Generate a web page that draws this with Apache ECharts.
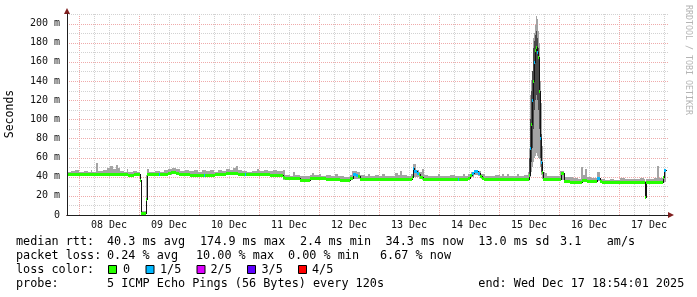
<!DOCTYPE html>
<html><head><meta charset="utf-8">
<script src="https://cdn.jsdelivr.net/npm/echarts@6/dist/echarts.min.js"></script>
<style>html,body{margin:0;padding:0;background:#fff}#c{width:697px;height:297px}</style>
</head><body><div id="c"></div>
<script>
// ---- time axis: hours counted from 08 Dec 2025 00:00 ----
const xMin = -4.8, xMax = 235.6, endHour = 234.8;
const dayLabels = ['08 Dec','09 Dec','10 Dec','11 Dec','12 Dec','13 Dec','14 Dec','15 Dec','16 Dec','17 Dec'];
const dayLabelHours = [12,36,60,84,108,132,156,180,204,228];
const dayLineHours = [0,24,48,72,96,120,144,168,192,216];
const sixHourLineHours = [6,12,18,30,36,42,54,60,66,78,84,90,102,108,114,126,132,138,150,156,162,174,180,186,198,204,210,222,228,234];
const yTickValues = [0,20,40,60,80,100,120,140,160,180,200];
const yTickLabels = ['0','20 m','40 m','60 m','80 m','100 m','120 m','140 m','160 m','180 m','200 m'];
const yMajorLines = [20,40,60,80,100,120,140,160,180,200];
const yMinorLines = [10,30,50,70,90,110,130,150,170,190,210];

// ---- smoke (ping spread), ms ----
const smokeTime = [-4.8,-3.2,-1.6,0,2.0,3.6,4.8,5.2,6.8,7.6,9.6,11.2,12.4,13.6,14.8,15.6,16.4,18.0,19.2,19.6,21.6,23.2,24.4,24.8,26.8,27.2,28.0,30.4,32.4,34.0,35.6,37.2,38.8,40.4,42.4,44.0,46.0,47.6,49.2,50.8,52.4,54.0,55.6,57.2,58.8,60.4,61.6,62.8,63.6,65.2,67.2,69.2,71.2,72.0,74.0,75.6,77.6,79.2,80.8,81.6,82.4,84.4,85.6,86.4,88.4,90.4,92.4,93.2,94.0,96.0,96.8,98.8,100.8,102.4,103.6,106.0,108.4,109.2,111.2,112.4,114.4,115.6,116.4,118.4,120.0,121.2,122.4,124.4,126.4,127.6,128.4,129.2,131.2,132.8,133.6,134.8,136.0,137.2,138.0,139.6,141.6,143.6,144.4,146.4,148.4,150.4,152.4,153.6,154.4,155.6,156.8,158.0,159.6,160.8,161.6,162.4,164.4,166.4,168.4,169.2,170.0,171.2,172.0,174.0,175.2,176.0,178.0,179.6,180.0,180.4,180.8,181.2,181.6,182.0,182.4,182.8,183.2,183.6,184.0,184.4,184.8,185.2,185.6,186.4,187.2,189.2,190.8,192.4,194.0,195.6,197.6,199.6,200.8,201.6,202.4,203.2,204.8,206.4,207.2,208.4,210.4,212.4,214.0,216.4,217.6,218.4,220.4,222.4,224.4,226.0,226.4,226.8,228.4,230.0,231.2,232.0,233.6,234.0];
const smokeLow = [41.5,41.5,41.5,41.5,41.5,41.5,41.5,41.5,41.5,41.5,41.5,41.5,41.5,41.5,41.5,41.5,41.5,41.5,41.5,41.5,41,40.5,35,2,15,41.5,41.5,41.5,41.5,41.5,42,43,42.5,41.5,41.5,41.5,41.5,41.5,41.5,41.5,41.5,41.5,41.5,41.5,42,42,42,42,42,41.5,41.5,41.5,41.5,41.5,41.5,41.5,41.5,41.5,41,37,37.5,37.5,37.5,37.5,35.5,35.5,37.5,37.5,37.5,37.5,37.5,37,37,37,36,36,37,38,38,37,36.5,36.5,36.5,36.5,36.5,36.5,36.5,36.5,36.5,36.5,36.5,36.5,36.5,37,40,40,38,37,36.5,36.5,36.5,36.5,36.5,36.5,36.5,36.5,36.5,36.5,36.5,38,40,42,41,37.5,36.5,36.5,36.5,36.5,36.5,36.5,36.5,36.5,36.5,36.5,36.5,36.5,36.5,37,38,40,45,50,55,60,62,65,62,60,58,50,42,38,36.5,36.5,36.5,36.5,36.5,37,35,35,33.5,33.5,34,35,35,35,35,35,36,34,33.5,33.5,33.5,33.5,33.5,33.5,33.5,33.5,33.5,33.5,18,33.5,33.5,33.5,33.5,33.5,33.5,34];
const smokeHigh = [44.5,45.5,46.5,45,46,44.5,47,45,54,46,47,49,51,48,52,49,46,45,48,45,46,44.5,42,4,42,48,45,46,45,47,48,49,48,46,47,45.5,46.5,45,47,45.5,46.5,45,47,46,48,47,49,51,47,46,45,46,48.5,45.5,47,45.5,47.5,45.5,46,47,42,41,45,41.5,40.5,41,42,44,41.5,43,41,42,41,42.5,40.5,40,42,46,45,42,41,42.5,41,42,40.5,42.5,41,40.5,43.5,42,45.5,41.5,41,43,53.5,47,45,48,41.5,40.5,41,43,41,40.5,41.5,41,40.5,43,41,43,45,46.5,46,42.5,43,41,40.5,41.5,41,43,41,42.5,40.5,41,42.5,41,41.5,45,70,125,141,150,185,190,198,208,205,192,180,140,117,72,45,44,41,40.5,41,46,40,39.5,38.5,38,50.5,42,48,40,39,38.5,44.5,37.5,37,38,37,38.5,39,37.5,38,37.5,38.5,38,36,38,37.5,38.5,51,38.5,40,48.5];

// ---- dense core of the smoke during the 15 Dec spike ----
const darkTime = [180.0,180.4,180.8,181.2,181.6,182.0,182.4,182.8,183.2,183.6,184.0,184.4,184.8];
const darkEnd = 185.2;
const darkLow  = [38,42,55,70,90,110,120,125,120,110,90,60,45];
const darkHigh = [60,100,130,150,175,182,188,192,185,175,160,120,85];

// ---- median rtt (ms) and loss level (0 = 0, 1 = 1/5 ...) ----
const medTime = [-4.8,8.4,13.2,19.6,22.0,24.4,24.8,26.8,27.2,32.0,32.4,35.6,36.8,38.8,40.0,44.4,50.0,50.4,54.4,58.8,63.6,66.4,66.8,70.4,76.4,81.6,82.4,88.4,92.4,98.8,104.4,108.4,109.6,110.8,111.6,112.4,114.0,133.2,133.6,134.0,135.2,136.0,136.4,137.6,151.6,152.0,155.6,156.4,157.2,158.0,159.6,160.4,161.2,162.0,179.6,180.0,180.4,180.8,181.2,181.6,182.0,182.4,182.8,183.2,183.6,184.0,184.4,184.8,185.2,185.6,192.8,194.0,196.4,201.2,203.2,207.2,208.4,209.2,226.4,226.8,233.6,234.0];
const medValue = [42.5,43,42.5,42,42.5,36.6,2.4,17,42.5,42.5,42.5,43.5,45,44,42.5,42,42,42,42.5,43.5,43,43,43,42.5,42,39.5,38.4,36.3,38.4,38,36.6,39,43,42,40.5,38,37.4,40,49,46,44,43,40,37.4,37.4,37.4,39,42,44,45.5,44,41,38.5,37.4,38,42,70,95,120,140,160,172,176,170,165,130,80,55,45,37.4,43.6,36,34.2,37,36,38.4,36,34.2,19,34.2,40,47.5];
const medLoss  = [0,0,0,0,0,0,0,0,0,1,0,0,0,0,0,0,1,0,0,0,0,1,0,0,0,0,0,0,0,0,0,0,1,1,0,0,0,0,1,1,1,0,0,0,1,0,0,0,1,1,1,0,0,0,0,0,1,0,1,0,1,0,0,1,0,0,1,1,0,0,0,0,0,0,0,1,0,0,0,0,0,1];

const lossColors = ['#26ff00','#00b8ff','#dd00ff','#5e00ff','#ff0000'];
const lossLabels = ['0','1/5','2/5','3/5','4/5'];

// ---------------------------------------------------------------
const FONT = '"DejaVu Sans Mono", monospace';
const bands = (t, lo, hi, end) => t.map((v, i) => [v, i + 1 < t.length ? t[i + 1] : end, lo[i], hi[i]]);
const smokeData = bands(smokeTime, smokeLow, smokeHigh, endHour);
const darkData = bands(darkTime, darkLow, darkHigh, darkEnd);
const medData = medTime.map((t, i) => [t, i + 1 < medTime.length ? medTime[i + 1] : endHour, medValue[i], medLoss[i], i + 1 < medTime.length ? medValue[i + 1] : medValue[i]]);

const gridData = [];
sixHourLineHours.forEach(v => gridData.push([v, 0, 0]));
dayLineHours.forEach(v => gridData.push([v, 0, 1]));
yMinorLines.forEach(v => gridData.push([xMin, v, 2]));
yMajorLines.forEach(v => gridData.push([xMin, v, 3]));

function bandRender(color) {
  return function (params, api) {
    const a = api.coord([api.value(0), api.value(3)]);
    const b = api.coord([api.value(1), api.value(2)]);
    const x0 = Math.round(a[0]), x1 = Math.round(b[0]);
    const y0 = Math.round(a[1]), y1 = Math.round(b[1]);
    return {type: 'rect', shape: {x: x0, y: y0, width: Math.max(1, x1 - x0), height: Math.max(1, y1 - y0)}, style: {fill: color}};
  };
}

const chart = echarts.init(document.getElementById('c'), null, {renderer: 'canvas'});
const legendItems = [];
const lossBoxX = [108.5, 146, 197, 247.5, 298.5];
const lossTextX = [123, 160, 210.5, 261.5, 312];
lossLabels.forEach((l, i) => {
  legendItems.push({type: 'rect', shape: {x: lossBoxX[i], y: 265.5, width: 8, height: 8}, style: {fill: lossColors[i], stroke: '#000', lineWidth: 1}});
  legendItems.push({type: 'text', x: lossTextX[i], y: 269.5, style: {text: l, font: '11.8px ' + FONT, fill: '#000', verticalAlign: 'middle'}});
});
const txt = (s, x, y) => ({type: 'text', x: x, y: y, style: {text: s, font: '11.8px ' + FONT, fill: '#000', verticalAlign: 'middle'}});

chart.setOption({
  backgroundColor: '#fff',
  animation: false,
  grid: {left: 67, right: 29, top: 14, bottom: 82},
  xAxis: [
    {type: 'value', min: xMin, max: xMax, position: 'bottom', z: 1,
     axisLine: {show: true, onZero: false, lineStyle: {color: '#801f1f', width: 1}, symbol: ['none', 'triangle'], symbolSize: [6, 6], symbolOffset: [0, 3]},
     axisLabel: {show: false}, axisTick: {show: false}, splitLine: {show: false}},
    {type: 'value', min: xMin, max: xMax, position: 'bottom', z: 3,
     axisLine: {show: true, onZero: false, lineStyle: {color: '#1f1f1f', width: 1}},
     axisTick: {show: false}, splitLine: {show: false},
     axisLabel: {customValues: dayLabelHours, margin: 5, fontFamily: FONT, fontSize: 10, color: '#111',
       formatter: v => { const i = dayLabelHours.indexOf(v); return i >= 0 ? dayLabels[i] : ''; }}}
  ],
  yAxis: [
    {type: 'value', min: 0, max: 210, position: 'left', z: 1,
     axisLine: {show: true, onZero: false, lineStyle: {color: '#801f1f', width: 1}, symbol: ['none', 'triangle'], symbolSize: [6, 6], symbolOffset: [0, 3]},
     axisLabel: {show: false}, axisTick: {show: false}, splitLine: {show: false}},
    {type: 'value', min: 0, max: 210, interval: 20, position: 'left', z: 3,
     axisLine: {show: true, onZero: false, lineStyle: {color: '#1f1f1f', width: 1}},
     axisTick: {show: false}, splitLine: {show: false},
     axisLabel: {customValues: yTickValues, margin: 7, fontFamily: FONT, fontSize: 10, color: '#111',
       formatter: v => { const i = yTickValues.indexOf(v); return i >= 0 ? yTickLabels[i] : ''; }}}
  ],
  series: [
    {type: 'custom', name: 'grid', xAxisIndex: 1, yAxisIndex: 1, silent: true, clip: true, data: gridData,
     renderItem: function (params, api) {
       const cs = params.coordSys; const kind = api.value(2);
       const p = api.coord([api.value(0), api.value(1)]);
       const color = (kind === 1 || kind === 3) ? '#efaaaa' : '#d2d2d2';
       let shape;
       if (kind < 2) { const x = Math.round(p[0]) + 0.5; shape = {x1: x, y1: cs.y, x2: x, y2: cs.y + cs.height}; }
       else { const y = Math.round(p[1]) + 0.5; shape = {x1: cs.x, y1: y, x2: cs.x + cs.width, y2: y}; }
       return {type: 'line', shape: shape, style: {stroke: color, lineWidth: 1, lineDash: [1, 1]}};
     }},
    {type: 'custom', name: 'smoke', xAxisIndex: 1, yAxisIndex: 1, silent: true, clip: true, data: smokeData, renderItem: bandRender('#a4a4a4')},
    {type: 'custom', name: 'smokeCore', xAxisIndex: 1, yAxisIndex: 1, silent: true, clip: true, data: darkData, renderItem: bandRender('#4a4a4a')},
    {type: 'custom', name: 'steps', xAxisIndex: 1, yAxisIndex: 1, silent: true, clip: true, data: medData,
     renderItem: function (params, api) {
       const a = api.coord([api.value(1), api.value(2)]);
       const b = api.coord([api.value(1), api.value(4)]);
       const x = Math.round(a[0]);
       const ya = Math.round(a[1]), yb = Math.round(b[1]);
       return {type: 'rect', shape: {x: x, y: Math.min(ya, yb), width: 1, height: Math.abs(ya - yb) + 1}, style: {fill: '#111'}};
     }},
    {type: 'custom', name: 'median', xAxisIndex: 1, yAxisIndex: 1, silent: true, clip: true, data: medData,
     renderItem: function (params, api) {
       const a = api.coord([api.value(0), api.value(2)]);
       const b = api.coord([api.value(1), api.value(2)]);
       const x0 = Math.round(a[0]), x1 = Math.round(b[0]), y = Math.round(a[1]);
       return {type: 'rect', shape: {x: x0, y: y - 1, width: Math.max(1, x1 - x0), height: 3}, style: {fill: lossColors[api.value(3)]}};
     }}
  ],
  graphic: [
    {type: 'text', x: 10.5, y: 114, rotation: Math.PI / 2, style: {text: 'Seconds', font: '11.5px ' + FONT, fill: '#000', align: 'center', verticalAlign: 'middle'}},
    {type: 'text', x: 688, y: 60, rotation: -Math.PI / 2, style: {text: 'RRDTOOL / TOBI OETIKER', font: '8.3px ' + FONT, fill: '#b4b4b4', align: 'center', verticalAlign: 'middle'}},
    txt('median rtt:', 16, 241.5), txt('40.3 ms avg', 107, 241.5), txt('174.9 ms max', 200, 241.5), txt('2.4 ms min', 300, 241.5),
    txt('34.3 ms now', 385.5, 241.5), txt('13.0 ms sd', 478.3, 241.5), txt('3.1', 560, 241.5), txt('am/s', 606.7, 241.5),
    txt('packet loss:', 16, 255.5), txt('0.24 % avg', 107, 255.5), txt('10.00 % max', 196, 255.5), txt('0.00 % min', 288, 255.5), txt('6.67 % now', 380, 255.5),
    txt('loss color:', 16, 269.5),
    ...legendItems,
    txt('probe:', 16, 283.5), txt('5 ICMP Echo Pings (56 Bytes) every 120s', 107, 283.5), txt('end: Wed Dec 17 18:54:01 2025', 478.3, 283.5)
  ]
});
</script>
</body></html>
